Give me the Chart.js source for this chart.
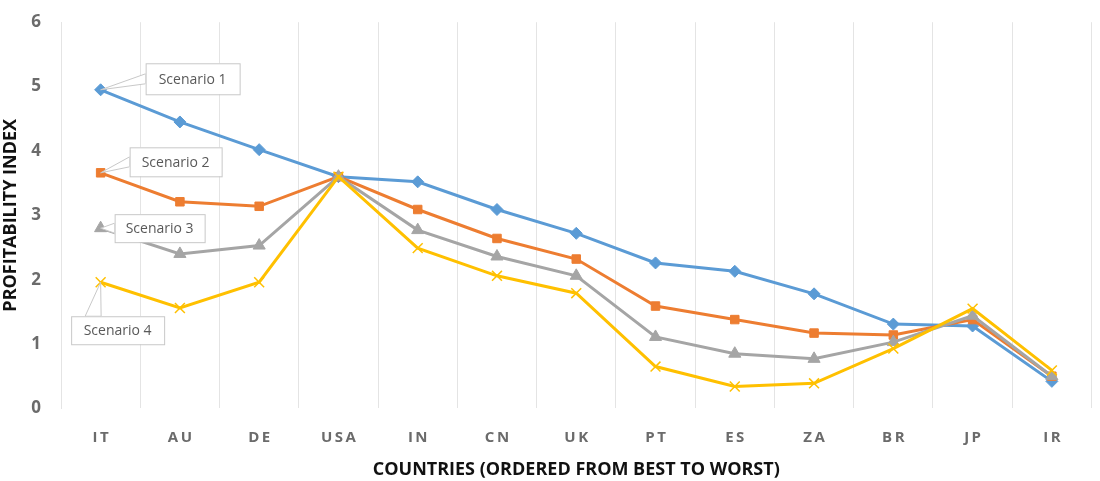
<!DOCTYPE html>
<html>
<head>
<meta charset="utf-8">
<script src="https://cdn.jsdelivr.net/npm/chart.js@4.4.0/dist/chart.umd.min.js"></script>
<style>
  html, body { margin: 0; padding: 0; background: #fff; }
  #wrap { width: 1100px; height: 481px; }
</style>
</head>
<body>
<div id="wrap"><canvas id="myChart"></canvas></div>
<script>
var countries = ['IT', 'AU', 'DE', 'USA', 'IN', 'CN', 'UK', 'PT', 'ES', 'ZA', 'BR', 'JP', 'IR'];
var scenario1 = [4.95, 4.45, 4.02, 3.60, 3.52, 3.09, 2.72, 2.26, 2.13, 1.78, 1.31, 1.28, 0.42];
var scenario2 = [3.66, 3.21, 3.14, 3.60, 3.09, 2.64, 2.32, 1.59, 1.38, 1.17, 1.14, 1.38, 0.50];
var scenario3 = [2.80, 2.40, 2.53, 3.60, 2.77, 2.36, 2.06, 1.11, 0.85, 0.77, 1.03, 1.44, 0.50];
var scenario4 = [1.96, 1.56, 1.96, 3.60, 2.49, 2.06, 1.79, 0.65, 0.34, 0.39, 0.93, 1.55, 0.59];
var yTicks = [0, 1, 2, 3, 4, 5, 6];

// callout boxes next to the first point of each line (offsets in px from the point)
var callouts = [
  { text: 'Scenario 1', dx: 92, dy: -11, w: 94, h: 31 },
  { text: 'Scenario 2', dx: 75, dy: -11, w: 92, h: 29 },
  { text: 'Scenario 3', dx: 59, dy: 0, w: 90, h: 28 },
  { text: 'Scenario 4', dx: 17, dy: 48, w: 93, h: 28 }
];

const calloutPlugin = {
  id: 'callouts',
  afterDatasetsDraw(chart) {
    const ctx = chart.ctx;
    ctx.save();
    callouts.forEach(function (c, i) {
      const pt = chart.getDatasetMeta(i).data[0];
      const cx = pt.x + c.dx, cy = pt.y + c.dy;
      const left = cx - c.w / 2, top = cy - c.h / 2;
      // leader wedge
      let a, b;
      if (c.dy > 20) {
        a = { x: left + 14, y: top }; b = { x: left + 30, y: top };
      } else {
        a = { x: left, y: cy - 5 }; b = { x: left, y: cy + 5 };
      }
      ctx.beginPath();
      ctx.moveTo(pt.x, pt.y);
      ctx.lineTo(a.x, a.y);
      ctx.lineTo(b.x, b.y);
      ctx.closePath();
      ctx.fillStyle = '#ffffff';
      ctx.fill();
      ctx.strokeStyle = '#c8c8c8';
      ctx.lineWidth = 1;
      ctx.stroke();
      ctx.fillStyle = '#ffffff';
      ctx.fillRect(left, top, c.w, c.h);
      ctx.strokeRect(left + 0.5, top + 0.5, c.w, c.h);
      ctx.fillStyle = '#595959';
      ctx.font = '14px "Open Sans"';
      ctx.textAlign = 'center';
      ctx.textBaseline = 'middle';
      ctx.fillText(c.text, cx, cy + 1);
    });
    ctx.restore();
  }
};

const data = {
  labels: countries,
  datasets: [
    { label: 'Scenario 1', data: scenario1, borderColor: '#5B9BD5', backgroundColor: '#5B9BD5',
      pointStyle: 'rectRot', pointRadius: 6, order: 3 },
    { label: 'Scenario 2', data: scenario2, borderColor: '#ED7D31', backgroundColor: '#ED7D31',
      pointStyle: 'rect', pointRadius: 6, order: 2 },
    { label: 'Scenario 3', data: scenario3, borderColor: '#A5A5A5', backgroundColor: '#A5A5A5',
      pointStyle: 'triangle', pointRadius: 7, order: 1 },
    { label: 'Scenario 4', data: scenario4, borderColor: '#FFC000', backgroundColor: '#FFC000',
      pointStyle: 'crossRot', pointRadius: 7, pointBorderWidth: 1.5, order: 0 }
  ]
};

const config = {
  type: 'line',
  data: data,
  options: {
    responsive: true,
    maintainAspectRatio: false,
    animation: false,
    layout: { padding: { top: 7, right: 0, bottom: 0, left: 0 } },
    elements: {
      line: { borderWidth: 3, tension: 0 },
      point: { borderWidth: 1 }
    },
    plugins: {
      legend: { display: false },
      tooltip: { enabled: false }
    },
    scales: {
      x: {
        offset: true,
        grid: { color: '#e4e4e4', offset: true, drawTicks: false },
        border: { display: false },
        ticks: {
          color: '#6b6b6b',
          padding: 20,
          font: { family: 'Open Sans', size: 15, weight: 'bold' },
          callback: function (v, i) { return countries[i].split('').join('\u2009'); }
        },
        title: {
          display: true,
          text: 'COUNTRIES (ORDERED FROM BEST TO WORST)',
          color: '#111',
          padding: { top: -7, bottom: 0 },
          font: { family: 'Open Sans', size: 18, weight: 'bold' }
        }
      },
      y: {
        min: 0,
        max: 6,
        afterFit: function (s) { s.width = 61; },
        afterBuildTicks: function (s) { s.ticks = yTicks.map(function (v) { return { value: v }; }); },
        grid: { display: false },
        border: { display: true, color: '#e4e4e4' },
        ticks: {
          color: '#6b6b6b',
          padding: 12,
          font: { family: 'Open Sans', size: 17, weight: 'bold' }
        },
        title: {
          display: true,
          text: 'PROFITABILITY INDEX',
          color: '#111',
          padding: { top: 0, bottom: 4 },
          font: { family: 'Open Sans', size: 18, weight: 'bold' }
        }
      }
    }
  },
  plugins: [calloutPlugin]
};

const ctx = document.getElementById('myChart');
const chart = new Chart(ctx, config);
</script>
</body>
</html>
